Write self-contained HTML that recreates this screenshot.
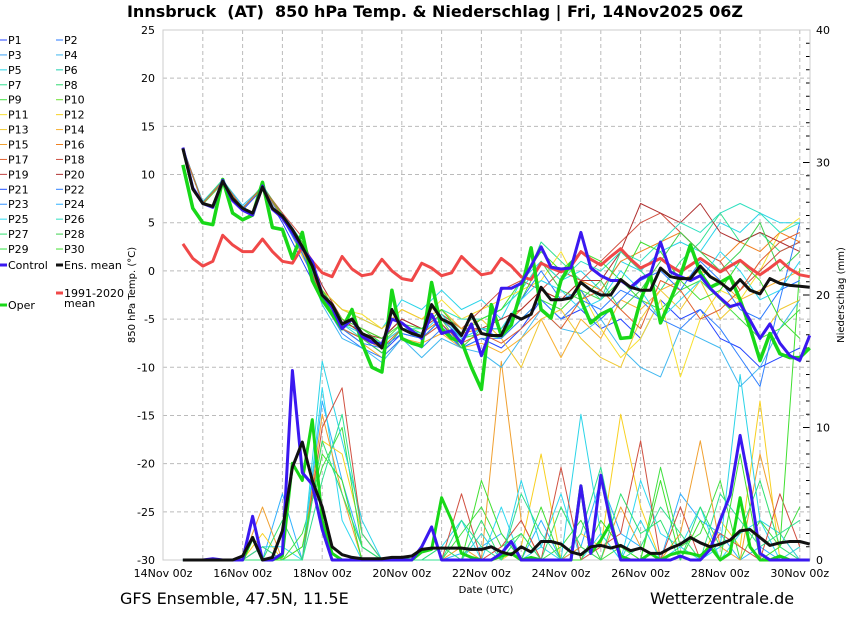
<!DOCTYPE html>
<html><head><meta charset="utf-8">
<style>
html,body{margin:0;padding:0;background:#fff;}
svg{display:block;font-family:"DejaVu Sans","Liberation Sans",sans-serif;}
</style></head>
<body>
<svg id="chart" width="850" height="620" viewBox="0 0 850 620">
<text x="435" y="17" text-anchor="middle" font-size="16" font-weight="bold" xml:space="preserve" style="white-space:pre">Innsbruck  (AT)  850 hPa Temp. &amp; Niederschlag | Fri, 14Nov2025 06Z</text>
<g id="grid"></g>
<g id="axes"></g>
<g id="members"></g>
<g id="main"></g>
<g id="legend"></g>
<text x="120" y="604" font-size="16">GFS Ensemble, 47.5N, 11.5E</text>
<text x="650" y="604" font-size="16">Wetterzentrale.de</text>
<text x="486" y="593" text-anchor="middle" font-size="10">Date (UTC)</text>
<text transform="translate(135,295) rotate(-90)" text-anchor="middle" font-size="10">850 hPa Temp. (°C)</text>
<text transform="translate(844,295) rotate(-90)" text-anchor="middle" font-size="10">Niederschlag (mm)</text>
</svg>
<script>
const NS="http://www.w3.org/2000/svg";
// ---- data ----
const tempTicks=[25,20,15,10,5,0,-5,-10,-15,-20,-25,-30];
const precipTicks=[40,30,20,10,0];
const dateLabels=["14Nov 00z","16Nov 00z","18Nov 00z","20Nov 00z","22Nov 00z","24Nov 00z","26Nov 00z","28Nov 00z","30Nov 00z"];
// 6-hourly series from 14Nov 12z to 30Nov 06z (64 values)
const ensMean=[12.7,8.5,7,6.7,9.3,7.5,6.5,6,8.7,6.5,5.7,4.3,2.5,0.5,-2.5,-3.5,-5.5,-5,-6.5,-7,-8,-4,-6,-6.5,-6.8,-3.5,-5,-5.5,-6.7,-4.5,-6.5,-6.7,-6.7,-4.5,-5,-4.5,-1.7,-3,-3,-2.8,-1.2,-2,-2.5,-2.5,-0.9,-1.7,-2,-2,0.3,-0.6,-0.8,-0.8,0.5,-0.6,-1.2,-2,-0.9,-2,-2.4,-0.8,-1.3,-1.5,-1.6,-1.7];
const control=[12.8,8.6,7,6.6,9.4,7.3,6.3,5.8,8.8,6.4,5.5,4,2.3,1,-2.5,-3.8,-6,-5,-6.8,-7.4,-7.6,-5,-5.4,-6.2,-7,-4.5,-6.5,-6.2,-7.5,-5.5,-8.8,-6,-1.8,-1.8,-1.3,0.5,2.5,0.4,0.2,0.3,4,0.3,-0.5,-1,-1,-1.7,-0.8,-0.3,3,-0.1,-0.6,-1,-0.5,-1.8,-2.8,-3.7,-3.4,-5.1,-7,-5.5,-7.5,-8.8,-9.3,-6.7];
const oper=[11,6.5,5,4.8,9.5,6,5.3,5.8,9.2,4.5,4.3,1.3,4,-1,-3,-4.5,-6,-4,-7.5,-10,-10.5,-2,-7,-7.5,-7.8,-1.2,-6,-7,-7.3,-10,-12.3,-3.5,-6.7,-5.6,-2,2.4,-4,-4.9,-1,0.8,-3,-5.4,-4.5,-4,-7,-6.9,-3,-0.4,-5.4,-3,-0.5,2.7,-0.2,-1.7,-1.2,-0.6,-3,-5.9,-9.3,-6.5,-8.6,-9,-9,-8];
const climate=[2.8,1.3,0.5,1,3.7,2.7,2,2,3.3,2,1,0.8,2.5,1,-0.2,-0.6,1.5,0.2,-0.5,-0.3,1.2,0,-0.8,-1,0.8,0.3,-0.5,-0.2,1.5,0.5,-0.4,-0.2,1.3,0.5,-0.6,-0.9,0.8,0.3,-0.1,0.5,2,1.2,0.6,1.5,2.3,1.2,0.3,0.8,1.3,0.5,-0.1,0.6,1.3,0.6,-0.1,0.5,1.1,0.3,-0.4,0.3,1.1,0.2,-0.4,-0.6];
const meanPrecip=[0,0,0,0,0,0,0.3,1.7,0,0.2,2.2,7,8.9,6,4,1,0.4,0.2,0.1,0.1,0.1,0.2,0.2,0.3,0.8,0.9,0.9,0.9,0.9,0.8,0.8,1,0.6,0.4,1,0.6,1.4,1.4,1.2,0.6,0.4,1,1.1,0.9,1.1,0.7,0.9,0.5,0.5,0.9,1.2,1.7,1.3,1,1.2,1.5,2.2,2.3,1.7,1.1,1.3,1.4,1.4,1.2];
const controlPrecip=[0,0,0,0.1,0,0,0,3.3,0,0,0.5,14.3,6.6,5.7,2.3,0,0,0,0,0,0,0,0,0,1,2.5,0,0,0,0,0,0,0.5,1.4,0,0,0,0,0,0,5.6,0.5,6.4,2.8,0,0,0,0,0,0,0.3,0,0,0.8,3,4.9,9.4,5.5,0.5,0,0,0,0,0];
const operPrecip=[0,0,0,0,0,0,0,1.7,0,0,0.3,7.3,6,10.6,3,0.5,0,0,0,0,0,0,0.1,0,0.6,0.8,4.7,3,0.5,0.2,0,0,0.3,0.5,0,0.2,0,0,0,0,5.6,0.5,1.5,2.8,0.3,0,0,0.5,0,0.4,0.6,0.5,0.3,1,0,0.5,4.7,1,0,0,0.3,0,0,0];
// 12-hourly member temps (32 values, 14Nov 12z .. 30Nov 00z)
const memTemp1=[12.8,7,9.2,6.3,8.5,5,1,-3,-6,-7,-8.5,-6.5,-7,-5.5,-8,-7,-8,-6,-3,-5,-4,-6,-5,-7,-3,-5,-4,-7,-8,-10,-9,-8];
const memTemp2=[12.7,7.2,9.4,6.8,8.7,5.5,2,-3.5,-7,-8,-9.5,-7,-9,-7,-8,-8.5,-10,-7,-4,-6,-6.5,-5,-8,-10,-11,-6,-7,-8,-12,-10,-6,-3];
const memTemp3=[12.6,7,9.3,6.6,8.6,6,3,-2,-4,-5,-6,-3,-4,-2,-4,-3,-5,-1,1,-1,0,-2,1,0,2,3,2,5,4,6,5,5];
const memTemp4=[12.7,7.1,9.5,6.4,8.9,5.8,2.5,-2,-5,-6.5,-7,-5,-6,-4.5,-6,-5,-4,-2,3,1,-1,-3,2,0,-2,1,3,6,3,4,2,3];
const memTemp5=[12.7,6.9,9.1,6.5,8.8,5.6,3,-2.2,-5.5,-6,-7.5,-5.5,-6.5,-5,-7,-6.5,-7,-5,-3,-4,-2,-3,-1,-3,-4,-2,-1,-3,-5,-7,-6,-4];
const memTemp6=[12.7,7,9.3,6.5,8.6,5.7,1.5,-2,-4,-4.5,-6,-4,-5,-3,-5,-4,-3,-2,-1,2,-2,-6,-9,-7,-3,-11,-5,-2,-3,0,4,5.5];
const memTemp7=[12.7,7,9.2,6.5,8.6,5.4,2,-3,-6,-7.5,-9,-7,-7.5,-6.5,-8,-7.5,-8.5,-7,-5,-9,-5,-7,-3,-4,-2,-1,0,-1,-3,-2,-1,0];
const memTemp8=[12.7,7,9.3,6.5,8.7,5.6,2.5,-2.5,-5,-6.5,-7.5,-6,-6.5,-5,-6.5,-6,-6,-4,-2,-3,-1,-2,1,2,3,4,2,1,3,2,4,3];
const memTemp9=[12.7,7,9.3,6.5,8.7,6,3.5,-2,-5,-6,-7,-5,-6,-4.5,-6,-4,-2,-1,-2,0,-1,1,3,5,6,4,2,1,-2,0,2,3];
const memTemp10=[12.7,7,9.3,6.5,8.7,5.7,3,-1.5,-5,-6.5,-7,-5,-6,-4,-6,-6,-5,-4,-2,-3,-1,-1,2,7,6,5,7,4,3,4,3,2];
const memTemp11=[12.7,7,9.3,6.5,8.7,5.5,2,-3,-6.5,-8,-9,-7,-8,-6,-8,-7,-7,-5,-3,-5,-3,-4,-2,-3,-5,-6,-4,-6,-9,-12,-3,5];
const memTemp12=[12.7,7,9.3,6.5,8.7,5.6,2.2,-2.5,-5.5,-7,-8,-6,-6,-4,-5,-5,-4,-2,1,-1,1,0,2,1,3,5,4,6,7,6,4,5];
const memTemp13=[12.7,7,9.3,6.5,8.7,5.6,2.5,-2.5,-6,-7,-8.5,-6,-7,-5,-8,-6,-6,-3,1,-2,-3,-1,-4,-2,1,4,2,0,2,5,0,2];
const memTemp14=[12.7,7,9.3,6.5,8.7,5.6,2,-2,-4,-5,-6,-4,-5,-4,-6,-5,-7,-10,-5,-4,-7,-9,-10,-5,-2,-4,-1,-5,-3,-7,-4,-3];
const memTemp15=[12.7,7,9.3,6.5,8.7,5.4,1.8,-3,-6,-7.5,-8,-6.5,-7,-5,-7,-6,-7,-3,0,-3,-2,-5,-3,-1,0,-2,1,-1,-4,-5,-2,-1];
const memTemp16=[12.7,7,9.3,6.5,8.7,5.8,3,-2,-5,-6,-7,-5.5,-6,-4,-6.5,-5,-4,-1,2,0,2,1,-1,3,2,-1,-3,-2,1,-1,-5,-7];
const memTemp17=[12.7,7,9.3,6.5,8.7,5.5,2.5,-2.5,-5.5,-6.5,-7.5,-6,-6.5,-4.5,-7,-6,-6,-3,-1,-2,-4,-3,0,-2,-5,-3,-1,2,0,-3,-2,1];
const memTemp18=[12.7,7,9.3,6.5,8.7,5.6,2.3,-2.8,-6,-7,-8,-6,-7,-5.5,-7.5,-6.5,-7.5,-6,-4,-6,-3,-2,-4,-6,-1,-2,-5,-4,-2,1,3,4];
const memTempList=[memTemp1,memTemp2,memTemp3,memTemp4,memTemp5,memTemp6,memTemp7,memTemp8,memTemp9,memTemp10,memTemp11,memTemp12,memTemp13,memTemp14,memTemp15,memTemp16,memTemp17,memTemp18];
const memTempColorIdx=[0,3,4,6,8,10,13,15,17,19,21,25,27,12,1,29,24,16];
// 12-hourly member precip (mm)
const memPrec1=[0,0,0,0,0,5,0,12,6,1,0,0,0,0,0.5,1,2,0,3,0,1,6,2,1,0,5,3,2,0,1,0,0];
const memPrec2=[0,0,0,0,2,0,1,9,8,2,0,0,0,0,0,2,0,1,8,0,2,1,11,4,0,2,0,3,1,12,0,1];
const memPrec3=[0,0,0,0,1,1,0,13,3,0,0,0,0,1,3,0,4,0,1,5,0,2,0,6,2,1,4,0,2,3,0,1];
const memPrec4=[0,0,0,0,0,0,2,7,10,1,0,0,0,0,2,4,1,2,0,1,3,0,1,0,7,1,2,6,0,3,1,4];
const memPrec5=[0,0,0,0,4,0,0,11,5,0,0,0,0,0,1,0,15,3,0,0,1,0,4,1,0,2,9,1,0,8,2,0];
const memPrec6=[0,0,0,0,0,0,0,15,9,3,0,0,0,0,0,2,0,6,1,0,11,2,0,3,0,1,0,1,14,3,2,0];
const memPrec7=[0,0,0,0,1,0,0,10,13,2,0,0,0,0,5,0,1,3,0,7,0,1,2,9,0,4,0,2,1,0,5,1];
const memPrec8=[0,0,0,0,0,0,1,8,6,0,0,0,0,0,0,6,2,0,4,0,0,3,1,0,6,0,3,0,8,0,1,22];
const memPrec9=[0,0,0,0,0,3,0,9,5,1,0,0,0,1,0,3,0,2,0,4,1,0,5,2,3,0,4,1,2,6,1,0];
const memPrec10=[0,0,0,0,1,0,0,6,11,2,0,0,0,0,3,1,0,5,2,0,2,7,0,1,4,2,0,5,3,1,2,3];
const memPrecList=[memPrec1,memPrec2,memPrec3,memPrec4,memPrec5,memPrec6,memPrec7,memPrec8,memPrec9,memPrec10];
const memPrecColorIdx=[23,11,24,8,14,4,17,29,26,6];
const memberColors=["#2545ff","#2a7aff","#3aa0f5","#40b8f0","#2ad4e8","#20d0b0","#30e090","#30d870","#40e040","#6ae030","#f8e030","#f8d020","#f0c830","#f8b030","#f0a030","#f08020","#e06030","#d05040","#c04040","#b03030","#2050ff","#3080ff","#3090ff","#30b0ff","#30d8f0","#30e0c0","#30e070","#40d050","#30e040","#40e030"];

// ---- axes ----
const X0=163, DAY=39.8, Y25=30, Y30=560, XR=810;
const xOfHour=h=>X0+DAY*h/24;
const yT=v=>Y30-(v+30)*(Y30-Y25)/55;
const yP=v=>Y30-v*(Y30-Y25)/40;
const x6=i=>xOfHour(12+6*i);
const x12=j=>xOfHour(12+12*j);
function el(tag,attrs,parent){const e=document.createElementNS(NS,tag);for(const k in attrs)e.setAttribute(k,attrs[k]);parent.appendChild(e);return e;}
const grid=document.getElementById('grid'),axes=document.getElementById('axes'),mem=document.getElementById('members'),main=document.getElementById('main'),leg=document.getElementById('legend');

for(let d=1;d<=16;d++){const l=el('line',{x1:xOfHour(24*d),x2:xOfHour(24*d),y1:Y25,y2:Y30,stroke:'#bbb','stroke-dasharray':'4,3','stroke-width':1},grid);

}
tempTicks.forEach(v=>{if(v!==25&&v!==-30){const l=el('line',{x1:X0,x2:XR,y1:yT(v),y2:yT(v),stroke:'#bbb','stroke-dasharray':'4,3'},grid);

}
const t=el('text',{x:155,y:yT(v)+4,'text-anchor':'end','font-size':11},axes);t.textContent=v;

});
precipTicks.forEach(v=>{const t=el('text',{x:816,y:yP(v)+4,'font-size':11},axes);t.textContent=v;


const tk=el('line',{x1:803,x2:XR,y1:yP(v),y2:yP(v),stroke:'#000'},axes);

});
for(let v=1;v<40;v++){if(v%10===0)continue;const tk=el('line',{x1:806,x2:XR,y1:yP(v),y2:yP(v),stroke:'#000'},axes);

}
const frame=el('rect',{x:X0,y:Y25,width:XR-X0,height:Y30-Y25,fill:'none',stroke:'#ccc'},axes);


dateLabels.forEach((s,i)=>{const t=el('text',{x:xOfHour(48*i),y:577,'text-anchor':'middle','font-size':11},axes);t.textContent=s;

});

function line(arr,xf,yf,color,w,parent,name){const pts=arr.map((v,i)=>xf(i).toFixed(1)+','+yf(v).toFixed(1)).join(' ');
const p=el('polyline',{points:pts,fill:'none',stroke:color,'stroke-width':w,'stroke-linejoin':'round'},parent);

return p;}
memPrecList.forEach((a,k)=>line(a,x12,yP,memberColors[memPrecColorIdx[k]],1,mem,'member-precip-line'));
memTempList.forEach((a,k)=>line(a,x12,yT,memberColors[memTempColorIdx[k]],1,mem,'member-temp-line'));
line(climate,x6,yT,'#f04848',3,main,'climate-mean-line');
line(oper,x6,yT,'#18d818',3.5,main,'oper-temp-line');
line(control,x6,yT,'#3a18f0',3,main,'control-temp-line');
line(ensMean,x6,yT,'#111',3,main,'ens-mean-temp-line');
line(operPrecip,x6,yP,'#18d818',3,main,'oper-precip-line');
line(controlPrecip,x6,yP,'#3a18f0',3,main,'control-precip-line');
line(meanPrecip,x6,yP,'#111',3,main,'ens-mean-precip-line');

// ---- legend ----
function legItem(x,y,color,w,label,name){const l=el('line',{x1:x-8,x2:x-1,y1:y-4,y2:y-4,stroke:color,'stroke-width':w},leg);


const lines=label.split('\n');lines.forEach((s,i)=>{const t=el('text',{x:x,y:y+i*10,'font-size':11},leg);t.textContent=s;

});}
for(let i=0;i<30;i++){const col=i%2,row=Math.floor(i/2);legItem(col?64:8,44+row*14.93,memberColors[i],1,'P'+(i+1),'legend-p'+(i+1));}
legItem(8,269,'#3a18f0',3,'Control','legend-control');
legItem(64,269,'#111',3,'Ens. mean','legend-ens-mean');
legItem(64,297,'#f04848',3,'1991-2020\nmean','legend-climate-mean');
legItem(8,309,'#18d818',3,'Oper','legend-oper');
</script>
</body></html>
